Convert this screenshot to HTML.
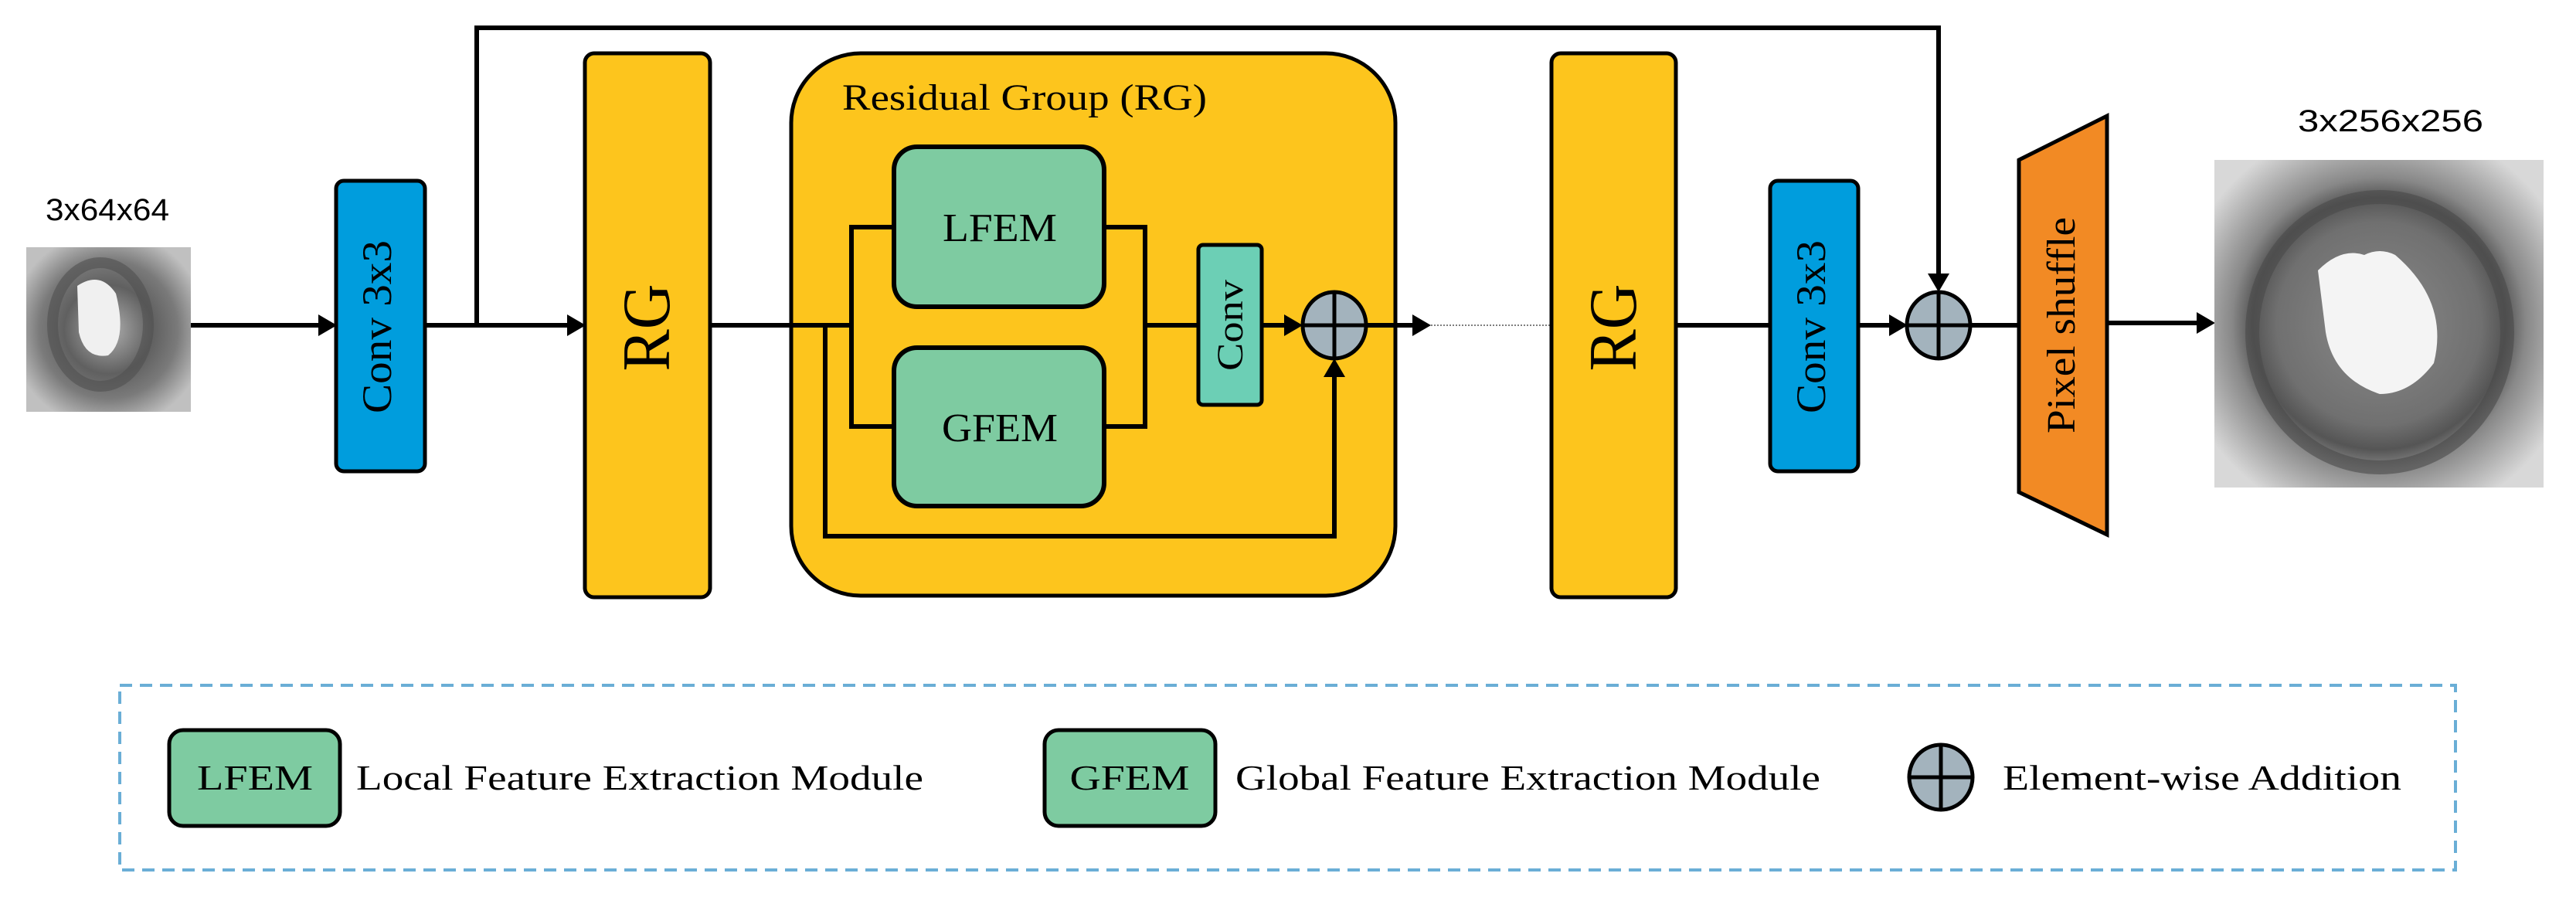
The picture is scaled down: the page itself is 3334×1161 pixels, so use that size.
<!DOCTYPE html>
<html><head><meta charset="utf-8"><style>html,body{margin:0;padding:0;background:#fff}svg{display:block}</style></head>
<body>
<svg width="3334" height="1161" viewBox="0 0 3334 1161" xmlns="http://www.w3.org/2000/svg">
<defs>
<radialGradient id="eyeS" cx="0.5" cy="0.5" r="0.6">
<stop offset="0" stop-color="#b0b0b0"/><stop offset="0.45" stop-color="#606060"/><stop offset="0.7" stop-color="#7a7a7a"/><stop offset="1" stop-color="#c0c0c0"/>
</radialGradient>
<radialGradient id="eyeL" cx="0.5" cy="0.5" r="0.62">
<stop offset="0" stop-color="#8a8a8a"/><stop offset="0.5" stop-color="#707070"/><stop offset="0.62" stop-color="#555"/><stop offset="0.72" stop-color="#888"/><stop offset="1" stop-color="#d8d8d8"/>
</radialGradient>
</defs>
<g stroke="#000" stroke-width="6" fill="none">
<polyline points="617,421 617,36 2509,36 2509,355"/>
<line x1="247" y1="421" x2="412" y2="421"/>
<line x1="550" y1="421" x2="734" y2="421"/>
<line x1="919" y1="421" x2="1102" y2="421"/>
<line x1="2169" y1="421" x2="2291" y2="421"/>
<line x1="2405" y1="421" x2="2445" y2="421"/>
<line x1="2550" y1="421" x2="2613" y2="421"/>
<line x1="2727" y1="418" x2="2843" y2="418"/>
</g>
<line x1="1852" y1="421" x2="2008" y2="421" stroke="#555" stroke-width="1.5" stroke-dasharray="2,2"/>
<g fill="#000">
<polygon points="412,407 436,421 412,435"/>
<polygon points="734,407 758,421 734,435"/>
<polygon points="1828,407 1852,421 1828,435"/>
<polygon points="2445,407 2469,421 2445,435"/>
<polygon points="2843,404 2867,418 2843,432"/>
<polygon points="2495,354 2509,378 2523,354"/>
</g>
<!-- input image -->
<rect x="34" y="320" width="213" height="213" fill="url(#eyeS)"/>
<ellipse cx="130" cy="420" rx="62" ry="80" fill="none" stroke="#505050" stroke-width="14" opacity="0.6"/>
<path d="M100,370 Q130,350 150,380 Q165,440 140,460 Q110,465 102,430 Z" fill="#f0f0f0"/>
<text x="139" y="285" font-family="Liberation Sans, sans-serif" font-size="40" text-anchor="middle" textLength="160" lengthAdjust="spacingAndGlyphs">3x64x64</text>
<!-- conv1 -->
<rect x="435" y="234" width="115" height="376" rx="10" fill="#009ddd" stroke="#000" stroke-width="5"/>
<text transform="translate(506,423) rotate(-90)" font-family="Liberation Serif, serif" font-size="54" text-anchor="middle" textLength="224" lengthAdjust="spacingAndGlyphs">Conv  3x3</text>
<!-- RG1 -->
<rect x="757" y="69" width="162" height="704" rx="12" fill="#fdc51d" stroke="#000" stroke-width="5"/>
<text transform="translate(866,424) rotate(-90)" font-family="Liberation Serif, serif" font-size="88" text-anchor="middle" textLength="113" lengthAdjust="spacingAndGlyphs">RG</text>
<!-- big RG -->
<rect x="1024" y="69" width="782" height="702" rx="90" fill="#fdc51d" stroke="#000" stroke-width="5"/>
<g stroke="#000" stroke-width="6" fill="none">
<polyline points="1024,421 1102,421"/>
<polyline points="1157,294 1102,294 1102,552 1157,552"/>
<polyline points="1429,294 1482,294 1482,552 1429,552"/>
<line x1="1482" y1="421" x2="1551" y2="421"/>
<line x1="1633" y1="421" x2="1662" y2="421"/>
<polyline points="1068,421 1068,694 1727,694 1727,488"/>
<line x1="1768" y1="421" x2="1828" y2="421"/>
</g>
<g fill="#000">
<polygon points="1662,407 1686,421 1662,435"/>
<polygon points="1713,488 1727,464 1741,488"/>
</g>
<text x="1090" y="142" font-family="Liberation Serif, serif" font-size="48" textLength="472" lengthAdjust="spacingAndGlyphs">Residual Group (RG)</text>
<rect x="1157" y="190" width="272" height="207" rx="30" fill="#7ecba1" stroke="#000" stroke-width="6"/>
<text x="1294" y="312" font-family="Liberation Serif, serif" font-size="52" text-anchor="middle" textLength="148" lengthAdjust="spacingAndGlyphs">LFEM</text>
<rect x="1157" y="450" width="272" height="205" rx="30" fill="#7ecba1" stroke="#000" stroke-width="6"/>
<text x="1294" y="571" font-family="Liberation Serif, serif" font-size="52" text-anchor="middle" textLength="150" lengthAdjust="spacingAndGlyphs">GFEM</text>
<rect x="1551" y="317" width="82" height="207" rx="6" fill="#6ccfb5" stroke="#000" stroke-width="5"/>
<text transform="translate(1608,421) rotate(-90)" font-family="Liberation Serif, serif" font-size="48" text-anchor="middle" textLength="118" lengthAdjust="spacingAndGlyphs">Conv</text>
<g stroke="#000" stroke-width="5">
<ellipse cx="1727" cy="421" rx="41" ry="43" fill="#a3b3bd"/>
<line x1="1686" y1="421" x2="1768" y2="421"/><line x1="1727" y1="378" x2="1727" y2="464"/>
</g>
<!-- RG2 -->
<rect x="2008" y="69" width="161" height="704" rx="12" fill="#fdc51d" stroke="#000" stroke-width="5"/>
<text transform="translate(2117,424) rotate(-90)" font-family="Liberation Serif, serif" font-size="88" text-anchor="middle" textLength="113" lengthAdjust="spacingAndGlyphs">RG</text>
<rect x="2291" y="234" width="114" height="376" rx="10" fill="#009ddd" stroke="#000" stroke-width="5"/>
<text transform="translate(2362,423) rotate(-90)" font-family="Liberation Serif, serif" font-size="54" text-anchor="middle" textLength="224" lengthAdjust="spacingAndGlyphs">Conv  3x3</text>
<g stroke="#000" stroke-width="5">
<ellipse cx="2509" cy="421" rx="41" ry="43" fill="#a3b3bd"/>
<line x1="2468" y1="421" x2="2550" y2="421"/><line x1="2509" y1="378" x2="2509" y2="464"/>
</g>
<polygon points="2613,207 2727,150 2727,692 2613,637" fill="#f28a24" stroke="#000" stroke-width="5"/>
<text transform="translate(2685,421) rotate(-90)" font-family="Liberation Serif, serif" font-size="52" text-anchor="middle" textLength="280" lengthAdjust="spacingAndGlyphs">Pixel shuffle</text>
<!-- output image -->
<rect x="2866" y="207" width="426" height="424" fill="url(#eyeL)"/>
<ellipse cx="3080" cy="430" rx="165" ry="175" fill="none" stroke="#4a4a4a" stroke-width="18" opacity="0.6"/>
<path d="M3000,350 Q3030,320 3060,330 Q3080,320 3100,330 Q3170,390 3150,470 Q3120,510 3080,510 Q3020,490 3010,430 Z" fill="#f4f4f4"/>
<text x="3094" y="170" font-family="Liberation Sans, sans-serif" font-size="40" text-anchor="middle" textLength="240" lengthAdjust="spacingAndGlyphs">3x256x256</text>
<!-- legend -->
<rect x="155" y="887" width="3023" height="239" fill="none" stroke="#6aaed6" stroke-width="4" stroke-dasharray="16,10"/>
<rect x="219" y="945" width="221" height="124" rx="18" fill="#7ecba1" stroke="#000" stroke-width="5"/>
<text x="330" y="1022" font-family="Liberation Serif, serif" font-size="46" text-anchor="middle" textLength="150" lengthAdjust="spacingAndGlyphs">LFEM</text>
<text x="461" y="1022" font-family="Liberation Serif, serif" font-size="46" textLength="734" lengthAdjust="spacingAndGlyphs">Local Feature Extraction Module</text>
<rect x="1352" y="945" width="221" height="124" rx="18" fill="#7ecba1" stroke="#000" stroke-width="5"/>
<text x="1462" y="1022" font-family="Liberation Serif, serif" font-size="46" text-anchor="middle" textLength="155" lengthAdjust="spacingAndGlyphs">GFEM</text>
<text x="1599" y="1022" font-family="Liberation Serif, serif" font-size="46" textLength="757" lengthAdjust="spacingAndGlyphs">Global Feature Extraction Module</text>
<g stroke="#000" stroke-width="5">
<ellipse cx="2512" cy="1006" rx="41" ry="42" fill="#a3b3bd"/>
<line x1="2471" y1="1006" x2="2553" y2="1006"/><line x1="2512" y1="964" x2="2512" y2="1048"/>
</g>
<text x="2592" y="1022" font-family="Liberation Serif, serif" font-size="46" textLength="516" lengthAdjust="spacingAndGlyphs">Element-wise Addition</text>
</svg>
</body></html>
